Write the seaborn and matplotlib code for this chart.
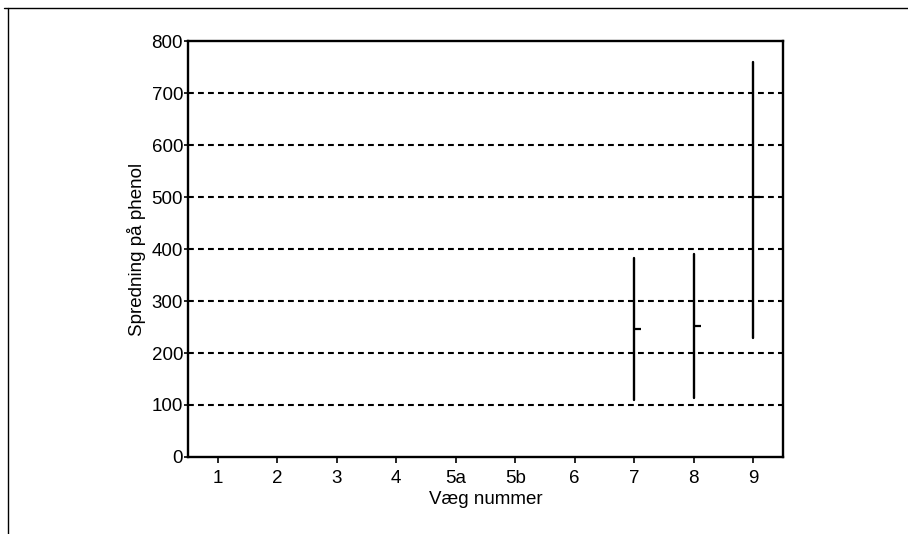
import matplotlib
matplotlib.use("Agg")
import matplotlib.pyplot as plt
from matplotlib.lines import Line2D
import numpy as np
import pandas as pd
import seaborn as sns

# Wells (x categories) and phenol spread per well: range low/high and mean tick
categories = ["1", "2", "3", "4", "5a", "5b", "6", "7", "8", "9"]
measured = ["7", "8", "9"]
low_values = [110, 113, 228]
high_values = [382, 391, 760]
mean_values = [247, 252, 500]
y_ticks = [0, 100, 200, 300, 400, 500, 600, 700, 800]
grid_levels = [100, 200, 300, 400, 500, 600, 700]

sns.set_style("ticks")
plt.rcParams["font.family"] = ["Liberation Sans", "DejaVu Sans"]

# Long form: each measured well contributes its low and high value
long_df = pd.DataFrame({
    "vaeg": measured + measured,
    "value": low_values + high_values,
})

fig = plt.figure(figsize=(9.08, 5.34), dpi=100)
ax = fig.add_axes([0.2070, 0.1442, 0.6553, 0.7790])

# Horizontal dashed reference lines
ax.hlines(grid_levels, -0.5, 9.5, colors="black", linewidth=1.5,
          linestyles=(0, (2.8, 2.0)), zorder=1)

# Min-max range line per well
sns.pointplot(data=long_df, x="vaeg", y="value", order=categories,
              estimator="mean", errorbar=("pi", 100), linestyle="none",
              marker="none", color="black",
              err_kws={"linewidth": 1.7}, ax=ax, zorder=3)

# Short tick to the right marking the mean
pos = [categories.index(c) for c in measured]
ax.hlines(mean_values, pos, [p + 0.12 for p in pos], colors="black",
          linewidth=1.6, zorder=3)

ax.set_xlim(-0.5, 9.5)
ax.set_ylim(0, 800)
ax.set_yticks(y_ticks)
ax.set_xticks(range(len(categories)))
ax.set_xticklabels(categories)

for side in ["left", "right", "top", "bottom"]:
    ax.spines[side].set_visible(True)
    ax.spines[side].set_linewidth(1.7)
    ax.spines[side].set_color("black")

ax.tick_params(axis="y", direction="out", length=3, width=1.2, pad=0.5,
               labelsize=13.5, colors="black")
ax.tick_params(axis="x", direction="out", length=4.3, width=1.2, pad=5,
               labelsize=13.5, colors="black")

ax.set_xlabel("Væg nummer", fontsize=13.5, labelpad=3, color="black")
ax.set_ylabel("Spredning på phenol", fontsize=13.5, color="black")
ax.yaxis.set_label_coords(-0.071, 0.5)

# Thin page frame on the top and left edges
fig.add_artist(Line2D([0.004, 1.0], [0.985, 0.985], transform=fig.transFigure,
                      color="black", linewidth=1.0))
fig.add_artist(Line2D([0.0088, 0.0088], [0.0, 0.985], transform=fig.transFigure,
                      color="black", linewidth=1.0))

fig.savefig("out.png", dpi=100, facecolor="white")
